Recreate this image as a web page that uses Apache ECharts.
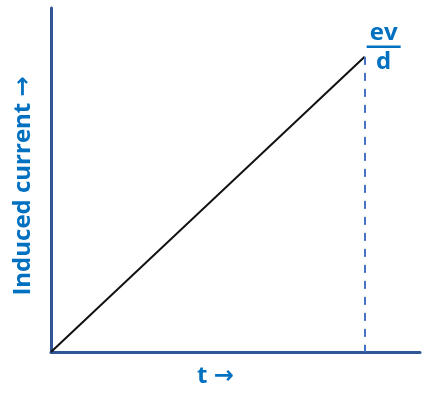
<!DOCTYPE html>
<html>
<head>
<meta charset="utf-8">
<script src="https://cdn.jsdelivr.net/npm/echarts@6/dist/echarts.min.js"></script>
<style>
  html, body { margin: 0; padding: 0; background: #fff; }
  #chart { width: 424px; height: 397px; }
</style>
</head>
<body>
<div id="chart"></div>
<script>
// line from origin to the end point (arbitrary units, axes run 0..1)
var tValues = [0, 0.85];
var currentValues = [0, 0.858];
var xName = 't \u2192';
var yName = 'Induced current \u2192';

var axisColor = '#2f5597';
var textBlue = '#0070c0';
var fontFam = '"Open Sans", "Noto Sans", "DejaVu Sans", sans-serif';

var chartDom = document.getElementById('chart');
var myChart = echarts.init(chartDom);
var option;
var last = tValues.length - 1;
option = {
  animation: false,
  grid: { left: 51, right: 4, top: 8, bottom: 45, outerBoundsMode: 'none' },
  xAxis: {
    type: 'value',
    min: 0,
    max: 1,
    name: xName,
    nameLocation: 'middle',
    nameGap: 12,
    nameTextStyle: { color: textBlue, fontSize: 24, fontWeight: 'bold', fontFamily: fontFam, padding: [0, 40, 0, 0] },
    axisLine: { lineStyle: { color: axisColor, width: 3 } },
    axisTick: { show: false },
    axisLabel: { show: false },
    splitLine: { show: false }
  },
  yAxis: {
    type: 'value',
    min: 0,
    max: 1,
    name: yName,
    nameLocation: 'middle',
    nameRotate: 90,
    nameGap: 16,
    nameTextStyle: { color: textBlue, fontSize: 24, fontWeight: 'bold', fontFamily: fontFam, padding: [0, 12, 0, 0] },
    axisLine: { show: true, lineStyle: { color: axisColor, width: 3 } },
    axisTick: { show: false },
    axisLabel: { show: false },
    splitLine: { show: false }
  },
  series: [
    {
      type: 'line',
      data: tValues.map(function (t, i) { return [t, currentValues[i]]; }),
      symbol: 'none',
      lineStyle: { color: '#111', width: 2 },
      endLabel: {
        show: true,
        formatter: '{n|ev}\n{bar|}\n{d|d}',
        offset: [-6, -9],
        rich: {
          n: { color: textBlue, fontSize: 24, fontWeight: 'bold', fontFamily: fontFam, align: 'center', width: 34, lineHeight: 24 },
          bar: { backgroundColor: textBlue, width: 34, height: 2.5, lineHeight: 4 },
          d: { color: textBlue, fontSize: 24, fontWeight: 'bold', fontFamily: fontFam, align: 'center', width: 34, lineHeight: 26 }
        }
      },
      markLine: {
        silent: true,
        symbol: 'none',
        label: { show: false },
        lineStyle: { color: '#4472c4', type: [8, 8], width: 2 },
        data: [[
          { coord: [tValues[last], currentValues[last]] },
          { coord: [tValues[last], 0] }
        ]]
      }
    }
  ]
};
option && myChart.setOption(option);
</script>
</body>
</html>
